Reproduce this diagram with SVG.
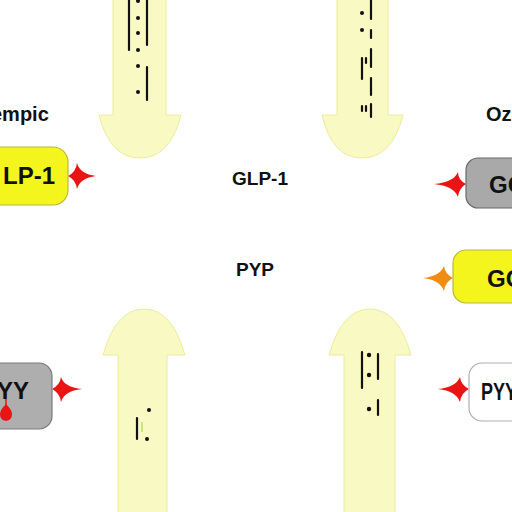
<svg xmlns="http://www.w3.org/2000/svg" width="512" height="512" viewBox="0 0 512 512">
<style>
.arrow{fill:#f9f9c4;stroke:#ecec9c;stroke-width:1}
.mk{fill:#111}
.ln{stroke:#111;stroke-width:2.2;stroke-linecap:round}
.lbl{font-family:"Liberation Sans",Arial,sans-serif;font-weight:bold;fill:#111}
.red{fill:#ea1414}
.org{fill:#f08c14}
</style>
<rect width="512" height="512" fill="#ffffff"/>
<g id="connectors">
  <path class="arrow" d="M113,-2 H166 V115 H181 Q170,158 140,158 Q110,158 99,115 H113 Z"/>
  <path class="arrow" d="M337,-2 H388 V115 H403 Q392,158 362,158 Q332,158 322,115 H337 Z"/>
  <path class="arrow" d="M118,514 H167 V355 H185 Q172,309 144,309 Q116,309 103,355 H118 Z"/>
  <path class="arrow" d="M344,514 H395 V355 H411 Q398,309 370,309 Q342,309 329,355 H344 Z"/>
  <line class="ln" x1="129" y1="0" x2="129" y2="50"/>
  <line class="ln" x1="147" y1="0" x2="147" y2="45"/>
  <line class="ln" x1="147" y1="67" x2="147" y2="100"/>
  <circle class="mk" cx="138" cy="1" r="2"/>
  <circle class="mk" cx="138" cy="18" r="2"/>
  <circle class="mk" cx="138" cy="33" r="2"/>
  <circle class="mk" cx="138" cy="50" r="2"/>
  <circle class="mk" cx="138" cy="66" r="2"/>
  <circle class="mk" cx="138" cy="92" r="2"/>
  <line class="ln" x1="371" y1="0" x2="371" y2="19"/>
  <line class="ln" x1="371" y1="30" x2="371" y2="38"/>
  <line class="ln" x1="371" y1="49" x2="371" y2="67"/>
  <line class="ln" x1="371" y1="78" x2="371" y2="95"/>
  <line class="ln" x1="371" y1="104" x2="371" y2="117"/>
  <line class="ln" x1="362" y1="58" x2="362" y2="79"/>
  <line class="ln" x1="366" y1="58" x2="366" y2="63"/>
  <line class="ln" x1="362" y1="106" x2="362" y2="111"/>
  <line class="ln" x1="366" y1="106" x2="366" y2="111"/>
  <circle class="mk" cx="362" cy="13" r="2"/>
  <circle class="mk" cx="362" cy="30" r="2"/>
  <line class="ln" x1="137" y1="418" x2="137" y2="439"/>
  <line x1="142" y1="422" x2="142" y2="432" stroke="#b8dc70" stroke-width="1.5"/>
  <circle class="mk" cx="149" cy="410" r="2"/>
  <circle class="mk" cx="147" cy="439" r="2"/>
  <line class="ln" x1="362" y1="352" x2="362" y2="388"/>
  <line class="ln" x1="378" y1="354" x2="378" y2="379"/>
  <line class="ln" x1="378" y1="400" x2="378" y2="415"/>
  <circle class="mk" cx="369" cy="355" r="2.2"/>
  <circle class="mk" cx="369" cy="375" r="2.2"/>
  <circle class="mk" cx="369" cy="409" r="2.2"/>
  <path class="red" d="M68,176 Q76,172 77,163 Q80,174 96,176 Q80,178 77,189 Q76,180 68,176 Z"/>
  <path class="red" d="M466,184 Q458,180 458,172 Q454,182 434,184 Q454,186 458,197 Q459,188 466,184 Z"/>
  <path class="org" d="M453,278 Q445,274 444,266 Q440,276 423,278 Q440,280 444,291 Q445,282 453,278 Z"/>
  <path class="red" d="M469,389 Q461,385 460,377 Q456,387 438,389 Q456,391 460,402 Q461,393 469,389 Z"/>
  <path class="red" d="M52,389 Q60,385 61,377 Q64,387 82,389 Q64,391 61,402 Q60,393 52,389 Z"/>
</g>
<g id="label-empic"><text class="lbl" x="-9" y="121" font-size="20">empic</text></g>
<g id="label-oz"><text class="lbl" x="486" y="121" font-size="20">Oz</text></g>
<g id="label-glp1"><text class="lbl" x="232" y="185" font-size="19">GLP-1</text></g>
<g id="label-pyp"><text class="lbl" x="236" y="276" font-size="19">PYP</text></g>
<g id="node-lp1">
  <rect x="-20" y="147" width="88" height="58" rx="15" fill="#f5f51e" stroke="#b8b840" stroke-width="1.2"/>
  <text class="lbl" x="3" y="184" font-size="24">LP-1</text>
</g>
<g id="node-gc-gray">
  <rect x="466" y="158" width="70" height="50" rx="12" fill="#a9a9a9" stroke="#6a6a6a" stroke-width="1.2"/>
  <text class="lbl" x="489" y="193" font-size="24">GC</text>
</g>
<g id="node-gc-yellow">
  <rect x="453" y="250" width="80" height="53" rx="13" fill="#f5f51e" stroke="#b8b840" stroke-width="1.2"/>
  <text class="lbl" x="487" y="287" font-size="24">GC</text>
</g>
<g id="node-pyy-white">
  <rect x="469" y="363" width="70" height="58" rx="13" fill="#ffffff" stroke="#b0b0b0" stroke-width="1.2"/>
  <text class="lbl" x="481" y="400" font-size="24" textLength="36" lengthAdjust="spacingAndGlyphs">PYY</text>
</g>
<g id="node-yy-gray">
  <rect x="-20" y="363" width="72" height="66" rx="13" fill="#aeaeae" stroke="#7a7a7a" stroke-width="1.2"/>
  <text class="lbl" x="-3" y="399" font-size="24">YY</text>
  <line x1="6" y1="399" x2="6" y2="406" stroke="#ea1414" stroke-width="1.5"/>
  <path class="red" d="M6,404 Q12,410 12,414 Q12,420 6,421 Q0,420 0,414 Q0,410 6,404 Z"/>
</g>
</svg>
